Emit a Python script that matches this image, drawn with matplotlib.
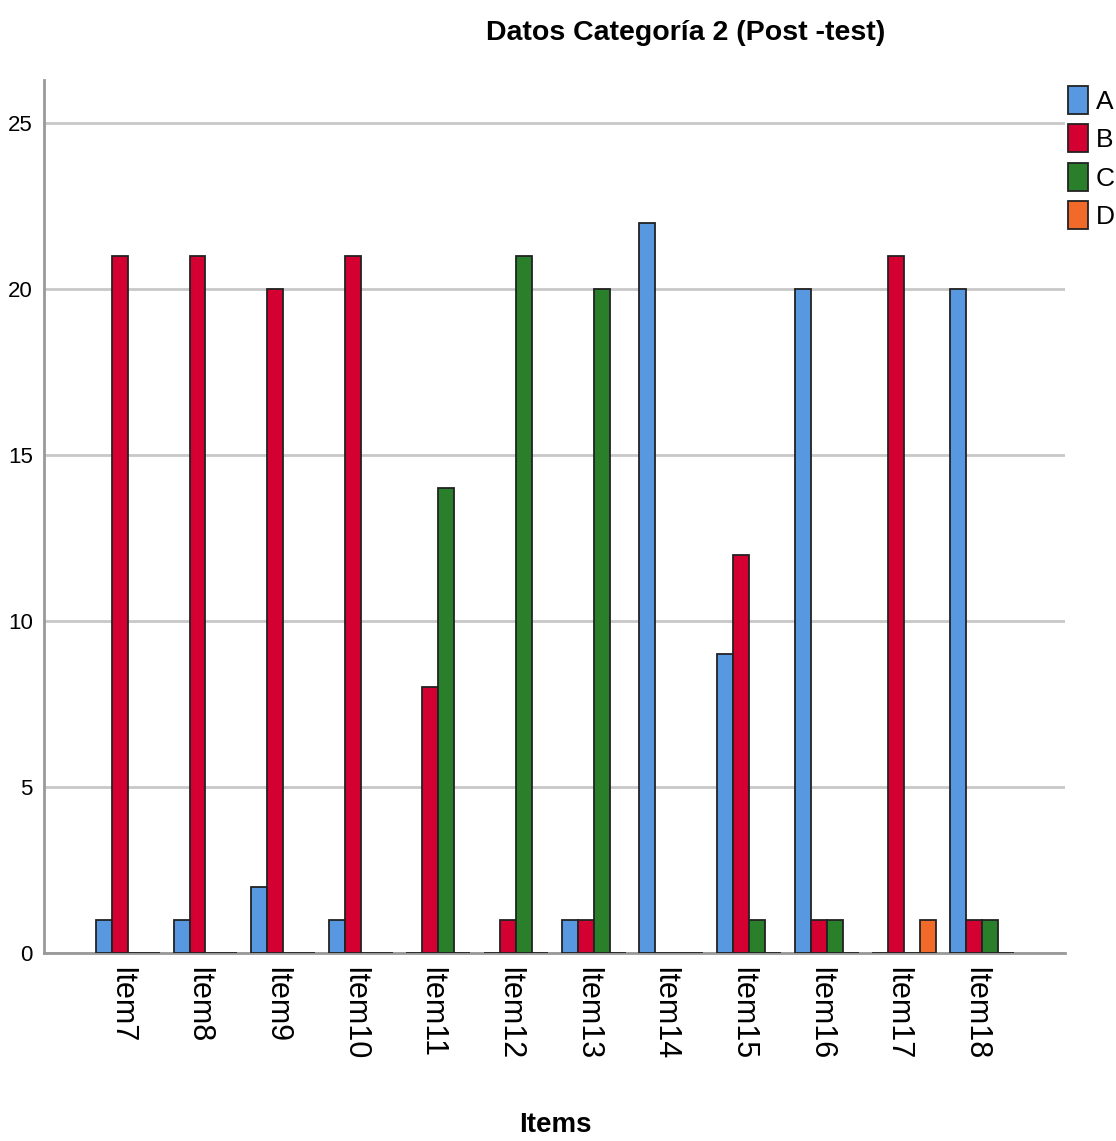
import matplotlib
matplotlib.use("Agg")
import matplotlib.pyplot as plt
import matplotlib.transforms as mtransforms
import numpy as np
from matplotlib.patches import Patch

items = ["Item7", "Item8", "Item9", "Item10", "Item11", "Item12",
         "Item13", "Item14", "Item15", "Item16", "Item17", "Item18"]
A = [1, 1, 2, 1, 0, 0, 1, 22, 9, 20, 0, 20]
B = [21, 21, 20, 21, 8, 1, 1, 0, 12, 1, 21, 1]
C = [0, 0, 0, 0, 14, 21, 20, 0, 1, 1, 0, 1]
D = [0, 0, 0, 0, 0, 0, 0, 0, 0, 0, 1, 0]
series = {"A": A, "B": B, "C": C, "D": D}
colors = {"A": "#5898e0", "B": "#d50032", "C": "#2a7f2a", "D": "#f26a2a"}
yticks = [0, 5, 10, 15, 20, 25]

plt.rcParams['font.family'] = ['Liberation Sans', 'DejaVu Sans']

fig = plt.figure(figsize=(11.16, 11.41), dpi=100)
ax = fig.add_axes([44/1116, 188/1141, (1065-44)/1116, (953-80)/1141])

x = np.arange(len(items))
w = 0.206
for i, (name, vals) in enumerate(series.items()):
    ax.bar(x + (i - 1.5) * w, vals, width=w, color=colors[name],
           edgecolor="#222222", linewidth=1.3, zorder=3)

ax.set_xlim(-1.08, 12.07)
ax.set_ylim(0, 26.3)
ax.set_yticks(yticks)
ax.set_yticklabels([str(t) for t in yticks], fontsize=16)
ax.set_xticks(x)
ax.set_xticklabels(items, rotation=270, fontsize=22, va="top", ha="center")
ax.tick_params(axis="both", length=0, pad=8)
ax.tick_params(axis="x", pad=10)
offset = mtransforms.ScaledTranslation(-7/100, 0, fig.dpi_scale_trans)
for lab in ax.get_xticklabels():
    lab.set_transform(lab.get_transform() + offset)
ax.grid(axis="y", color="#c8c8c8", linewidth=2, zorder=0)
ax.set_axisbelow(True)
for s in ["top", "right"]:
    ax.spines[s].set_visible(False)
for s in ["left", "bottom"]:
    ax.spines[s].set_color("#999999")
    ax.spines[s].set_linewidth(2)

fig.text(686/1116, 1 - 33/1141, "Datos Categoría 2 (Post -test)", ha="center",
         va="center", fontsize=20.5, fontweight="bold")
fig.text(555/1116, 1 - 1125/1141, "Items", ha="center", va="center",
         fontsize=20, fontweight="bold")

handles = [Patch(facecolor=colors[n], edgecolor="#222222", linewidth=1.3, label=n)
           for n in series]
fig.legend(handles=handles, loc="upper left", bbox_to_anchor=(1068/1116, 1 - 86/1141),
           frameon=False, fontsize=19, handlelength=0.75, handleheight=1.25,
           handletextpad=0.3, labelspacing=0.4, borderaxespad=0, borderpad=0)

fig.savefig("out.png", dpi=100)
